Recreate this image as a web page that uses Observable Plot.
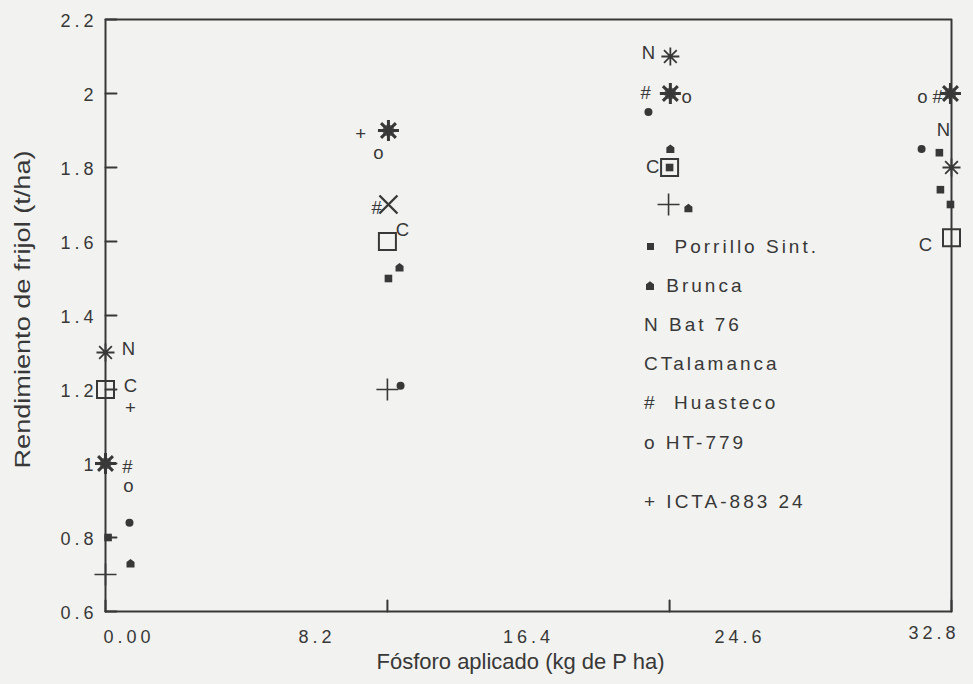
<!DOCTYPE html>
<html>
<head>
<meta charset="utf-8">
<script src="https://cdn.jsdelivr.net/npm/d3@7"></script>
<script src="https://cdn.jsdelivr.net/npm/@observablehq/plot@0.6"></script>
<style>
  html, body { margin: 0; padding: 0; background: #f2f2f0; }
  #chart { position: relative; width: 973px; height: 684px; }
  #chart svg { display: block; }
  #legend {
    position: absolute; left: 644px; top: 227px;
    font: 19px "Liberation Sans", Arial, sans-serif; letter-spacing: 3px;
    color: #383838; white-space: pre;
  }
  #legend .row { height: 39.2px; display: flex; align-items: center; }
  #legend .row.last { margin-top: 20px; }
  #legend .chip { display: block; width: 7px; height: 7px; margin: 0 4px 0 3px; background: #383838; }
  #legend .house { display: block; width: 8px; height: 9px; margin: 0 4px 0 2px; background: #383838;
    clip-path: polygon(50% 0, 100% 32%, 100% 100%, 0 100%, 0 32%); }
</style>
</head>
<body>
<div id="chart"><div id="legend"></div></div>
<script>
// Phosphorus rates of the four treatments (kg P/ha)
const rates = [0, 10.93, 21.87, 32.8];

// Axis ticks and their printed labels
const yTicks = [0.6, 0.8, 1.0, 1.2, 1.4, 1.6, 1.8, 2.0, 2.2];
const yTickLabels = ["0.6", "0.8", "1", "1.2", "1.4", "1.6", "1.8", "2", "2.2"];
const xTickValues = [0, 8.2, 16.4, 24.6, 32.8];
const xTickLabels = ["0.00", "8.2", "16.4", "24.6", "32.8"];

// Bean varieties and their key in the legend
const varieties = ["Porrillo Sint.", "Brunca", "Bat 76", "Talamanca", "Huasteco", "HT-779", "ICTA-883 24"];
const varietyKeys = ["chip", "house", "N", "C", "#", "o", "+"];

// Plotted markers: rate (kg P/ha) and yield (t/ha)
const asteriskRate = [0, 21.90, 32.80];
const asteriskYield = [1.30, 2.10, 1.80];
const clusterRate = [0, 10.97, 21.90, 32.76];      // several overlapping markers
const clusterYield = [1.00, 1.90, 2.00, 2.00];
const boxRate = [0, 10.93, 21.87, 32.80];
const boxYield = [1.20, 1.60, 1.80, 1.61];
const chipRate = [0.10, 10.97, 21.87, 32.33, 32.37, 32.76];
const chipYield = [0.80, 1.50, 1.80, 1.84, 1.74, 1.70];
const houseRate = [0.97, 11.40, 21.90, 22.60];
const houseYield = [0.73, 1.53, 1.85, 1.69];
const dotRate = [0.93, 11.44, 21.05, 31.64];
const dotYield = [0.84, 1.21, 1.95, 1.85];
const plusRate = [0, 10.93, 21.83];
const plusYield = [0.70, 1.20, 1.70];
const timesRate = [10.97];
const timesYield = [1.70];

// Letter tags printed beside the markers
const tagText  = ["N", "C", "+", "#", "o",   "+", "o", "#", "C",     "N", "#", "o", "C",     "o", "#", "N", "C"];
const tagRate  = [0.89, 0.97, 0.97, 0.85, 0.89,  9.89, 10.58, 10.51, 11.51,  21.05, 20.94, 22.53, 21.21,  31.67, 32.26, 32.49, 31.79];
const tagYield = [1.31, 1.21, 1.15, 0.99, 0.94,  1.89, 1.84, 1.69, 1.63,  2.11, 2.00, 1.99, 1.80,  1.99, 1.99, 1.90, 1.59];

const xTitle = "Fósforo aplicado (kg de P ha)";
const yTitle = "Rendimiento de frijol (t/ha)";

const ink = "#383838";
const font = '"Liberation Sans", Arial, sans-serif';

// Scale extents; the box around the plot traces them
const xDomain = [0, 32.8];
const yDomain = [0.6, 2.2];
const boxRing = [
  [xDomain[0], yDomain[0]], [xDomain[0], yDomain[1]],
  [xDomain[1], yDomain[1]], [xDomain[1], yDomain[0]], [xDomain[0], yDomain[0]]
];

// Custom marker shapes (size is the symbol area, as d3.symbol expects)
const rad = size => Math.sqrt(size / Math.PI);
const symAsterisk = { draw(c, size) { const r = rad(size);
  for (let k = 0; k < 4; k++) { const a = k * Math.PI / 4, cx = r * Math.cos(a), cy = r * Math.sin(a);
    c.moveTo(-cx, -cy); c.lineTo(cx, cy); } } };
const symPlus = { draw(c, size) { const r = rad(size);
  c.moveTo(-r, 0); c.lineTo(r, 0); c.moveTo(0, -r); c.lineTo(0, r); } };
const symTimes = { draw(c, size) { const r = rad(size) * 0.75;
  c.moveTo(-r, -r); c.lineTo(r, r); c.moveTo(-r, r); c.lineTo(r, -r); } };
const symBox = { draw(c, size) { const r = rad(size); c.rect(-r, -r, 2 * r, 2 * r); } };
const symHouse = { draw(c, size) { const r = rad(size);
  c.moveTo(0, -r * 1.1); c.lineTo(r, -r * 0.35); c.lineTo(r, r); c.lineTo(-r, r); c.lineTo(-r, -r * 0.35); c.closePath(); } };

// Plain stroke for the inward tick marks
const tickStroke = { draw(c, l) { c.moveTo(0, 0); c.lineTo(0, -l); } };

const pts = (xs, ys) => xs.map((x, i) => ({x, y: ys[i]}));

const W = 973, H = 684, mT = 19, mR = 22, mB = 73, mL = 105;
const tickLen = 11;
const lastTick = xTickValues.length - 1;

const chart = Plot.plot({
  width: W, height: H,
  marginTop: mT, marginRight: mR, marginBottom: mB, marginLeft: mL,
  x: {domain: xDomain, axis: null},
  y: {domain: yDomain, axis: null},
  style: {background: "transparent", color: ink, fontFamily: font},
  marks: [
    // box and inward tick marks
    Plot.line(boxRing, {stroke: ink, strokeWidth: 2}),
    Plot.vector(yTicks, {y: d => d, frameAnchor: "left", rotate: 90, length: tickLen, anchor: "start",
      shape: tickStroke, stroke: ink, strokeWidth: 2}),
    Plot.vector(rates, {x: d => d, frameAnchor: "bottom", rotate: 0, length: tickLen, anchor: "start",
      shape: tickStroke, stroke: ink, strokeWidth: 2}),
    // tick labels
    Plot.text(yTicks, {y: d => d, text: (d, i) => yTickLabels[i], frameAnchor: "left",
      textAnchor: "end", dx: -8, dy: 2, fontSize: 18, fill: ink}),
    Plot.text(xTickValues, {x: d => d, text: (d, i) => xTickLabels[i], filter: (d, i) => i === 0,
      frameAnchor: "bottom", textAnchor: "start", dx: -2, dy: 31, fontSize: 18, fill: ink}),
    Plot.text(xTickValues, {x: d => d, text: (d, i) => xTickLabels[i], filter: (d, i) => i > 0 && i < lastTick,
      frameAnchor: "bottom", textAnchor: "middle", dy: 31, fontSize: 18, fill: ink}),
    Plot.text(xTickValues, {x: d => d, text: (d, i) => xTickLabels[i], filter: (d, i) => i === lastTick,
      frameAnchor: "bottom", textAnchor: "end", dx: 8, dy: 27, fontSize: 18, fill: ink}),
    // axis titles
    Plot.text([xTitle], {text: d => d, frameAnchor: "bottom", textAnchor: "middle", dx: -8, dy: 57, fontSize: 22, fill: ink}),
    Plot.text([yTitle], {text: d => d, frameAnchor: "left", textAnchor: "middle", rotate: -90, dx: -83, dy: -6, fontSize: 22, fill: ink}),
    // markers
    Plot.dot(pts(clusterRate, clusterYield), {x: "x", y: "y", r: 6, fill: "#707070", stroke: "none"}),
    Plot.dot(pts(clusterRate, clusterYield), {x: "x", y: "y", r: 10.5, symbol: symAsterisk, fill: "none", stroke: ink, strokeWidth: 3}),
    Plot.dot(pts(asteriskRate, asteriskYield), {x: "x", y: "y", r: 9, symbol: symAsterisk, fill: "none", stroke: ink, strokeWidth: 1.8}),
    Plot.dot(pts(boxRate, boxYield), {x: "x", y: "y", r: 8.5, symbol: symBox, fill: "none", stroke: ink, strokeWidth: 2}),
    Plot.dot(pts(chipRate, chipYield), {x: "x", y: "y", r: 3.8, symbol: symBox, fill: ink, stroke: "none"}),
    Plot.dot(pts(houseRate, houseYield), {x: "x", y: "y", r: 4, symbol: symHouse, fill: ink, stroke: "none"}),
    Plot.dot(pts(dotRate, dotYield), {x: "x", y: "y", r: 4, fill: ink, stroke: "none"}),
    Plot.dot(pts(plusRate, plusYield), {x: "x", y: "y", r: 11, symbol: symPlus, fill: "none", stroke: ink, strokeWidth: 1.6}),
    Plot.dot(pts(timesRate, timesYield), {x: "x", y: "y", r: 12, symbol: symTimes, fill: "none", stroke: ink, strokeWidth: 2.4}),
    // letter tags
    Plot.text(tagText, {x: tagRate, y: tagYield, text: d => d, fontSize: 18.5, fill: ink})
  ]
});

document.getElementById("chart").prepend(chart);

// spaced tick numerals and condensed axis titles
const svgSel = d3.select(chart);
const tickSet = new Set([...yTickLabels, ...xTickLabels]);
svgSel.selectAll("text").filter(function() { return tickSet.has(this.textContent); })
  .style("letter-spacing", "4px");
svgSel.selectAll("text").filter(function() { return this.textContent === xTitle; })
  .attr("textLength", 288).attr("lengthAdjust", "spacingAndGlyphs");
svgSel.selectAll("text").filter(function() { return this.textContent === yTitle; })
  .attr("textLength", 318).attr("lengthAdjust", "spacingAndGlyphs");

// legend
const gaps = {"Porrillo Sint.": "  ", "Talamanca": "", "Huasteco": "  "};
const legendBox = d3.select("#legend");
varieties.forEach((label, i) => {
  const key = varietyKeys[i];
  const gap = gaps[label] ?? " ";
  const row = legendBox.append("div").attr("class", i === varieties.length - 1 ? "row last" : "row");
  if (key === "chip" || key === "house") {
    row.append("span").attr("class", key);
    row.append("span").text(gap + label);
  } else {
    row.append("span").text(key + gap + label);
  }
});
</script>
</body>
</html>
